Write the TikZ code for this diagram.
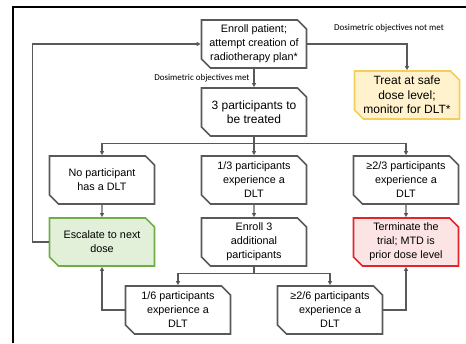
\documentclass[tikz,border=0pt]{standalone}
\usepackage{fontspec}
\setmainfont{Liberation Sans}
\newfontfamily\lblfont{Carlito}
\usepackage{tikz}
\usetikzlibrary{positioning}
\usetikzlibrary{shapes.misc}
\usetikzlibrary{arrows.meta}
\definecolor{boxline}{HTML}{595959}
\definecolor{escfill}{HTML}{E2F0D9}
\definecolor{escline}{HTML}{70AD47}
\definecolor{safefill}{HTML}{FFF2CC}
\definecolor{safeline}{HTML}{F2CF5B}
\definecolor{stopfill}{HTML}{FCE4E4}
\definecolor{stopline}{HTML}{E3242B}

\begin{document}
\begin{tikzpicture}[
  x=1pt, y=-1pt,
  flowbox/.style={
    chamfered rectangle,
    chamfered rectangle corners={north east,south west},
    chamfered rectangle xsep=5.5pt,
    draw=boxline, line width=1.7pt, fill=white,
    minimum width=105pt, minimum height=48pt,
    inner sep=1pt, align=center,
    font=\fontsize{10.8}{14}\selectfont,
  },
  bigbox/.style={flowbox, font=\fontsize{12}{14.5}\selectfont},
  escbox/.style={flowbox, draw=escline, fill=escfill},
  safebox/.style={bigbox, draw=safeline, fill=safefill},
  stopbox/.style={flowbox, draw=stopline, fill=stopfill},
  lbl/.style={font=\lblfont\fontsize{9}{10}\selectfont, inner sep=2pt},
  flow/.style={draw=boxline, line width=1.1pt, -{Triangle[length=4pt,width=4pt]}},
]
  \useasboundingbox (0,0) rectangle (466,343);
  % frame
  \draw[line width=2pt] (466,7) -- (13,7) -- (13,343);

  % boxes
  \node[flowbox] (enroll)   at (254,44)  {Enroll patient;\\attempt creation of\\radiotherapy plan*};
  \node[safebox] (treat)    at (407,95)  {Treat at safe\\dose level;\\monitor for DLT*};
  \node[bigbox]  (three)    at (254,112) {3 participants to\\be treated};
  \node[flowbox] (nodlt)    at (102,180) {No participant\\has a DLT};
  \node[flowbox] (onethree) at (254,180) {1/3 participants\\experience a\\DLT};
  \node[flowbox] (twothree) at (406,180) {≥2/3 participants\\experience a\\DLT};
  \node[escbox]  (escalate) at (102,242) {Escalate to next\\dose};
  \node[flowbox] (enrollmore) at (254,242) {Enroll 3\\additional\\participants};
  \node[stopbox] (terminate)  at (406,242) {Terminate the\\trial; MTD is\\prior dose level};
  \node[flowbox] (onesix)   at (178,310) {1/6 participants\\experience a\\DLT};
  \node[flowbox] (twosix)   at (330,310) {≥2/6 participants\\experience a\\DLT};

  % labels
  \node[lbl] (notmet) at (389,28) {Dosimetric objectives not met};

  % connectors
  \draw[flow] (enroll.east) -| (treat.north);
  \draw[flow] (enroll.south) -- node[lbl, left, inner xsep=4pt] (met) {Dosimetric objectives met} (three.north);
  \draw[draw=boxline, line width=1.1pt] (three.south) -- ++(0,7) coordinate (split);
  \draw[flow] (split) -| (nodlt.north);
  \draw[flow] (split) -| (twothree.north);
  \draw[flow] (split) -- (onethree.north);
  \draw[flow] (nodlt) -- (escalate);
  \draw[flow] (onethree) -- (enrollmore);
  \draw[flow] (twothree) -- (terminate);
  \draw[draw=boxline, line width=1.1pt] (enrollmore.south) -- ++(0,7) coordinate (split2);
  \draw[flow] (split2) -| (onesix.north);
  \draw[flow] (split2) -| (twosix.north);
  \draw[flow] (onesix.west) -| (escalate.south);
  \draw[flow] (twosix.east) -| (terminate.south);
  \draw[flow] (escalate.west) -- ++(-16,0) |- (enroll.west);
\end{tikzpicture}
\end{document}
